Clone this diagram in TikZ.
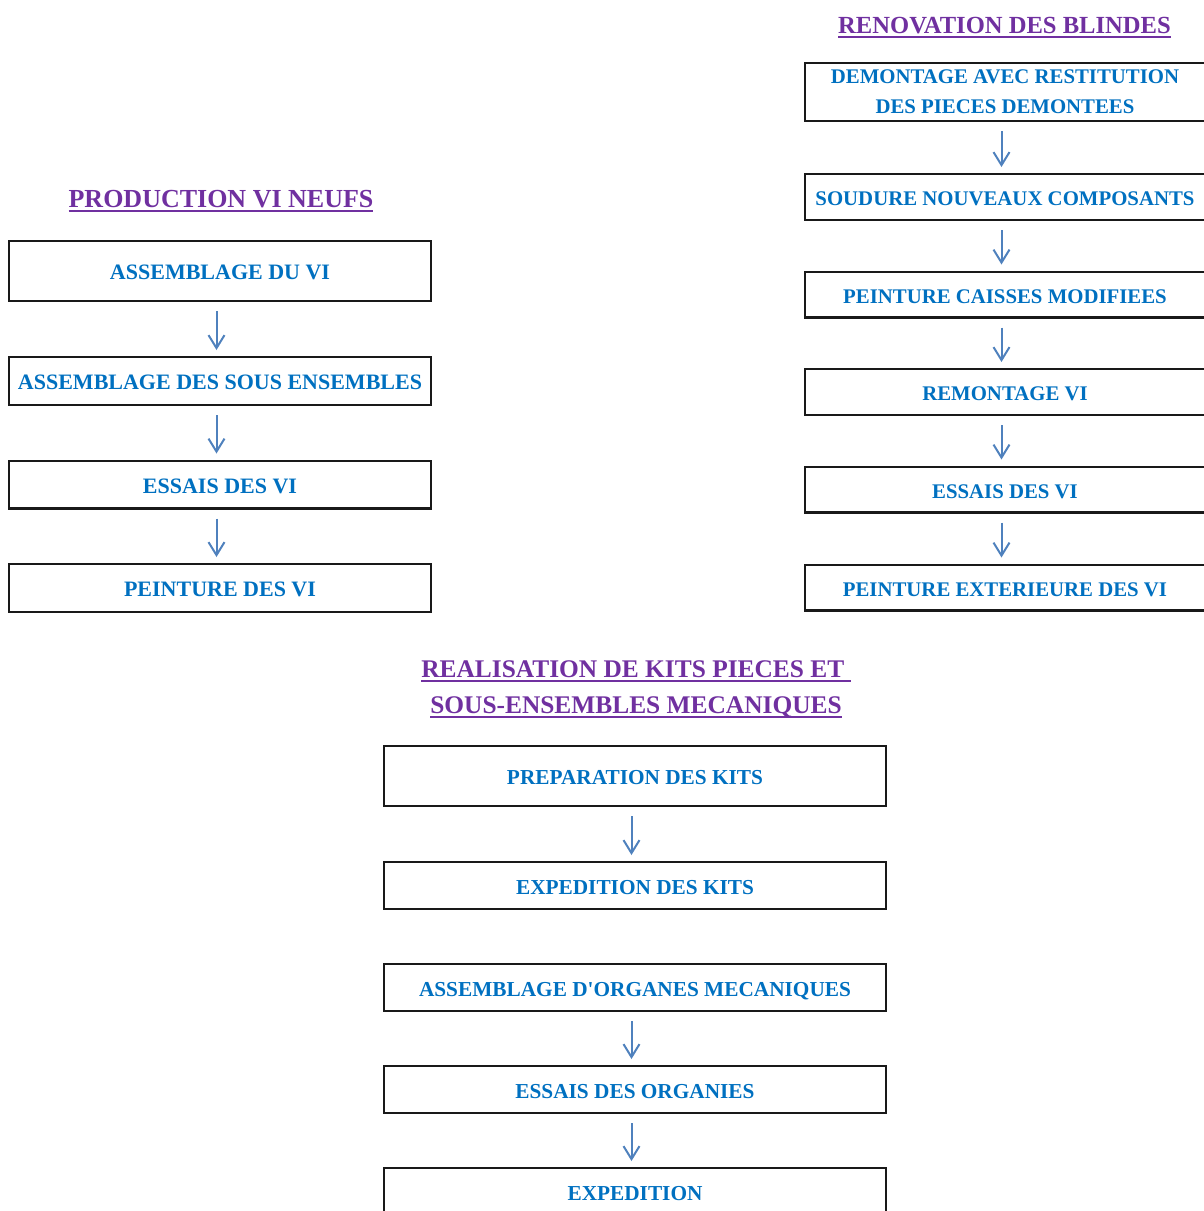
\documentclass[tikz,border=0pt]{standalone}
\usepackage{fontspec}
\setmainfont{Liberation Serif}
\usetikzlibrary{arrows.meta,positioning}
\definecolor{violet}{RGB}{112,48,160}
\definecolor{bleu}{RGB}{0,112,192}
\definecolor{fleche}{RGB}{79,129,189}
\tikzset{arrows={-{Straight Barb[length=13pt,width=16pt]}}}
\newcommand{\souligne}[1]{\setbox0=\hbox{#1}\rlap{\rule[-4.8pt]{\wd0}{1.8pt}}\box0}

\begin{document}
\begin{tikzpicture}[x=1pt, y=-1pt, node distance = 54pt,
    etape/.style={draw=black!90, line width=2.4pt, text=bleu, minimum height=47.6pt, text height=17pt, text depth=0pt},
    gauche/.style={etape, minimum width=422pt, font=\fontsize{22}{30}\selectfont\bfseries},
    droite/.style={etape, minimum width=400pt, minimum height=45.6pt, font=\fontsize{20.8}{30}\selectfont\bfseries},
    centre/.style={etape, minimum width=502pt, minimum height=46.6pt, font=\fontsize{21.3}{30}\selectfont\bfseries},
    titre/.style={text=violet, inner sep=0pt},
    every edge/.style={draw=fleche, line width=2pt, shorten <=9pt, shorten >=6pt, transform canvas={xshift=-3.5pt}}]
    \useasboundingbox (0,0) rectangle (1203,1211);

    % production
    \node[titre, anchor=base, font=\fontsize{26}{36}\selectfont\bfseries] (TP) at (221,207) {\souligne{PRODUCTION VI NEUFS}};
    \node[gauche, minimum height=59.6pt] (P1) at (220,271) {ASSEMBLAGE DU VI};
    \node[gauche] (P2) [below = of P1] {ASSEMBLAGE DES SOUS ENSEMBLES};
    \node[gauche] (P3) [below = 53.5pt of P2] {ESSAIS DES VI};
    \node[gauche] (P4) [below = 53.5pt of P3] {PEINTURE DES VI};

    \path (P1) edge (P2)
          (P2) edge (P3)
          (P3) edge (P4);

    % renovation
    \node[titre, anchor=base, font=\fontsize{24.6}{36}\selectfont\bfseries] (TR) at (1004.5,33) {\souligne{RENOVATION DES BLINDES}};
    \node[droite, minimum height=57.6pt, align=center, text height={}, text depth={}] (R1) at (1005,92) {DEMONTAGE AVEC RESTITUTION\\DES PIECES DEMONTEES};
    \node[droite] (R2) [below = 51pt of R1] {SOUDURE NOUVEAUX COMPOSANTS};
    \node[droite] (R3) [below = 49.5pt of R2] {PEINTURE CAISSES MODIFIEES};
    \node[droite] (R4) [below = 49.5pt of R3] {REMONTAGE VI};
    \node[droite] (R5) [below = 49.5pt of R4] {ESSAIS DES VI};
    \node[droite] (R6) [below = 50pt of R5] {PEINTURE EXTERIEURE DES VI};

    \path (R1) edge (R2)
          (R2) edge (R3)
          (R3) edge (R4)
          (R4) edge (R5)
          (R5) edge (R6);

    % kits
    \node[titre, anchor=north, align=center, font=\fontsize{25.4}{36}\selectfont\bfseries] (TK) at (636,660)
        {\souligne{REALISATION DE KITS PIECES ET\ }\\\souligne{SOUS-ENSEMBLES MECANIQUES}};
    \node[centre, minimum height=59.6pt] (K1) at (635,776) {PREPARATION DES KITS};
    \node[centre] (K2) [below = of K1] {EXPEDITION DES KITS};
    \node[centre] (K3) [below = 53pt of K2] {ASSEMBLAGE D\textquotesingle ORGANES MECANIQUES};
    \node[centre] (K4) [below = 53pt of K3] {ESSAIS DES ORGANIES};
    \node[centre] (K5) [below = 53pt of K4] {EXPEDITION};

    \path (K1) edge (K2)
          (K3) edge (K4)
          (K4) edge (K5);
  \end{tikzpicture}
\end{document}
